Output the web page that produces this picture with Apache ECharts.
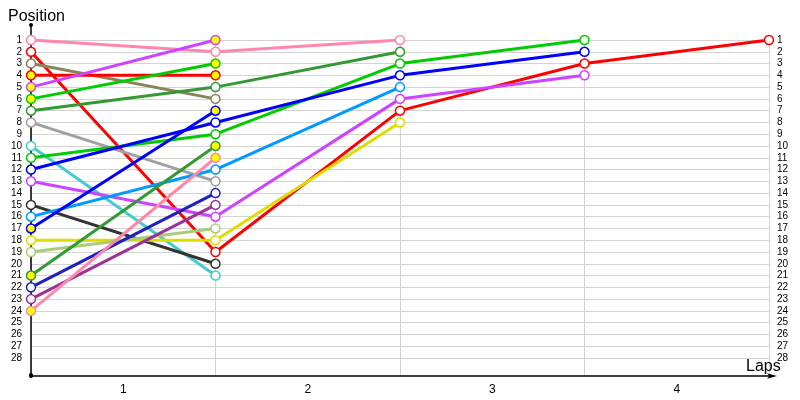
<!DOCTYPE html>
<html>
<head>
<meta charset="utf-8">
<script src="https://cdn.jsdelivr.net/npm/echarts@6/dist/echarts.min.js"></script>
<style>html,body{margin:0;padding:0;background:#fff}#c{width:800px;height:400px}</style>
</head>
<body>
<div id="c"></div>
<script>
// Lap labels (shown between lap boundaries)
const lapLabels = ['1', '2', '3', '4'];
// Position tick range
const posMin = 1, posMax = 28;

// Positions per driver, index 0 = start, 1 = after lap 1, ...
const pos01 = [1, 2, 1];
const pos02 = [2, 19, 7, 3, 1];
const pos03 = [3, 6];
const pos04 = [4, 4];
const pos05 = [5, 1];
const pos06 = [6, 3];
const pos07 = [7, 5, 2];
const pos08 = [8, 13];
const pos09 = [10, 21];
const pos10 = [11, 9, 3, 1];
const pos11 = [12, 8, 4, 2];
const pos12 = [13, 16, 6, 4];
const pos13 = [15, 20];
const pos14 = [16, 12, 5];
const pos15 = [17, 7];
const pos16 = [18, 18, 8];
const pos17 = [19, 17];
const pos18 = [21, 10];
const pos19 = [22, 14];
const pos20 = [23, 15];
const pos21 = [24, 11];

const allPos = [pos01,pos02,pos03,pos04,pos05,pos06,pos07,pos08,pos09,pos10,pos11,pos12,pos13,pos14,pos15,pos16,pos17,pos18,pos19,pos20,pos21];
const lineColors = ['#ff88aa','#ff0000','#8a8558','#ff0000','#cc44ff','#00cc00','#339933','#a0a0a0','#44cccc','#00cc00','#0000ff','#cc44ff','#333333','#0099ff','#0000ff','#dddd00','#aacc77','#339933','#2020c0','#993399','#ff88aa'];
const markerFill = ['#ffffff','#ffffff','#ffffff','#ffff00','#ffff00','#ffff00','#ffffff','#ffffff','#ffffff','#ffffff','#ffffff','#ffffff','#ffffff','#ffffff','#ffff00','#ffffff','#ffffff','#ffff00','#ffffff','#ffffff','#ffff00'];

const chart = echarts.init(document.getElementById('c'));
const font = 'Liberation Sans, Arial, sans-serif';

const series = allPos.map((arr, i) => ({
  type: 'line',
  xAxisIndex: 0,
  yAxisIndex: 0,
  data: arr.map((p, k) => [k, p]),
  symbol: 'circle',
  symbolSize: 9,
  showAllSymbol: true,
  lineStyle: { color: lineColors[i], width: 3 },
  itemStyle: { color: markerFill[i], borderColor: lineColors[i], borderWidth: 1.5 },
  emphasis: { disabled: true },
  animation: false,
  z: 3
}));

chart.setOption({
  animation: false,
  title: [
    { text: 'Position', left: 3, top: 4, textStyle: { fontFamily: font, fontSize: 16, fontWeight: 'normal', color: '#000' } },
    { text: 'Laps', left: 741, top: 354, textStyle: { fontFamily: font, fontSize: 16, fontWeight: 'normal', color: '#000' } }
  ],
  grid: [
    { left: 31, right: 31, top: 40, bottom: 42 },
    { left: 31, right: 31, top: 40, bottom: 24 },
    { left: 31, right: 31, top: 25, bottom: 25 }
  ],
  xAxis: [
    { gridIndex: 0, type: 'value', min: 0, max: 4, show: false },
    { gridIndex: 1, type: 'value', min: 0, max: 4, interval: 1,
      axisLabel: { show: false }, axisTick: { show: false },
      splitLine: { show: true, lineStyle: { color: '#d3d3d3', width: 1 } },
      axisLine: { show: true, onZero: false, lineStyle: { color: '#000', width: 1.5 },
        symbol: ['circle', 'arrow'], symbolSize: [4, 10], symbolOffset: [0, 8] },
      z: 2 },
    { gridIndex: 1, type: 'category', data: lapLabels, boundaryGap: true, position: 'bottom',
      axisLine: { show: false }, axisTick: { show: false }, splitLine: { show: false },
      axisLabel: { fontFamily: font, fontSize: 12, color: '#000', margin: 8 } },
    { gridIndex: 2, type: 'value', show: false, min: 0, max: 1 }
  ],
  yAxis: [
    { gridIndex: 0, type: 'value', inverse: true, min: posMin, max: posMax, interval: 1, position: 'left',
      axisLine: { show: false }, axisTick: { show: false },
      axisLabel: { fontFamily: font, fontSize: 10, color: '#000', margin: 9 },
      splitLine: { show: true, lineStyle: { color: '#d3d3d3', width: 1 } } },
    { gridIndex: 0, type: 'value', inverse: true, min: posMin, max: posMax, interval: 1, position: 'right',
      axisLine: { show: false }, axisTick: { show: false },
      axisLabel: { fontFamily: font, fontSize: 10, color: '#000', margin: 8 },
      splitLine: { show: false } },
    { gridIndex: 1, type: 'value', show: false, min: 0, max: 1 },
    { gridIndex: 2, type: 'value', min: 0, max: 1, position: 'left',
      axisLabel: { show: false }, axisTick: { show: false }, splitLine: { show: false },
      axisLine: { show: true, lineStyle: { color: '#000', width: 1.5 },
        symbol: ['circle', 'circle'], symbolSize: [4, 4] }, z: 2 }
  ],
  series: series
});
</script>
</body>
</html>
